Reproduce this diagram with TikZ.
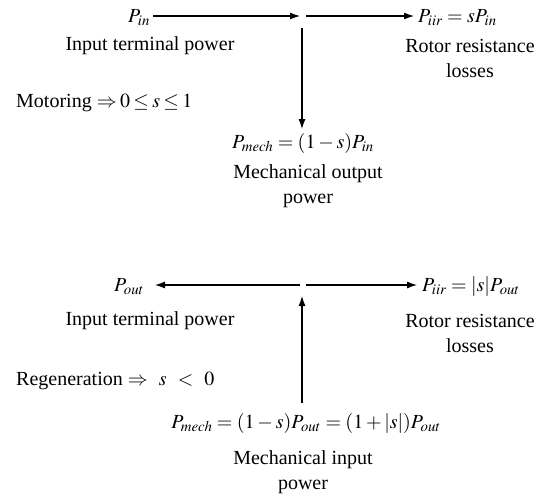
\documentclass[tikz,border=0pt]{standalone}
\usepackage{mathptmx}
\usepackage{fontspec}
\setmainfont{Liberation Serif}
\usetikzlibrary{arrows.meta}
\begin{document}
\begin{tikzpicture}[x=1pt,y=-1pt,
  every node/.style={inner sep=1pt,font=\fontsize{20}{25}\selectfont},
  lbl/.style={align=center},
  arr/.style={line width=1.1pt,-{Latex[length=10pt,width=7pt]}}]
\useasboundingbox (0,0) rectangle (542,499);
% ---------- motoring ----------
\node[anchor=base west] (pin) at (127,22) {$P_{in}$};
\node[lbl] (itp1) at (150,46) {Input terminal power};
\node[anchor=base west] (piir1) at (417,22) {$P_{iir}=sP_{in}$};
\node[lbl] (rrl1) at (470,58) {Rotor resistance\\losses};
\node[anchor=base west] (mot) at (15,107) {Motoring {\thickmuskip=3mu$\Rightarrow 0\le s\le 1$}};
\node[anchor=base] (pmech1) at (303,148) {$P_{mech}=(1-s)P_{in}$};
\node[lbl] (mo1) at (308,186) {Mechanical output\\power};
\coordinate (a1s) at (153,16);
\coordinate (a1e) at (300,16);
\coordinate (b1s) at (306,16);
\coordinate (b1e) at (414,16);
\coordinate (c1s) at (302,28);
\coordinate (c1e) at (302,129);
\draw[arr] (a1s) -- (a1e);
\draw[arr] (b1s) -- (b1e);
\draw[arr] (c1s) -- (c1e);
% ---------- regeneration ----------
\node[anchor=base west] (pout) at (113,291) {$P_{out}$};
\node[lbl] (itp2) at (150,321) {Input terminal power};
\node[anchor=base west] (piir2) at (421,291) {$P_{iir}=|s|P_{out}$};
\node[lbl] (rrl2) at (470,333) {Rotor resistance\\losses};
\node[anchor=base west] (reg) at (15,385) {Regeneration {\thickmuskip=10mu$\Rightarrow s<0$}};
\node[anchor=base] (pmech2) at (306,428) {$P_{mech}=(1-s)P_{out}=(1+|s|)P_{out}$};
\node[lbl] (mi2) at (303,472) {Mechanical input\\power};
\coordinate (a2s) at (300,285);
\coordinate (a2e) at (155,285);
\coordinate (b2s) at (306,285);
\coordinate (b2e) at (417,285);
\coordinate (c2s) at (302,403);
\coordinate (c2e) at (302,296);
\draw[arr] (a2s) -- (a2e);
\draw[arr] (b2s) -- (b2e);
\draw[arr] (c2s) -- (c2e);
\end{tikzpicture}
\end{document}
